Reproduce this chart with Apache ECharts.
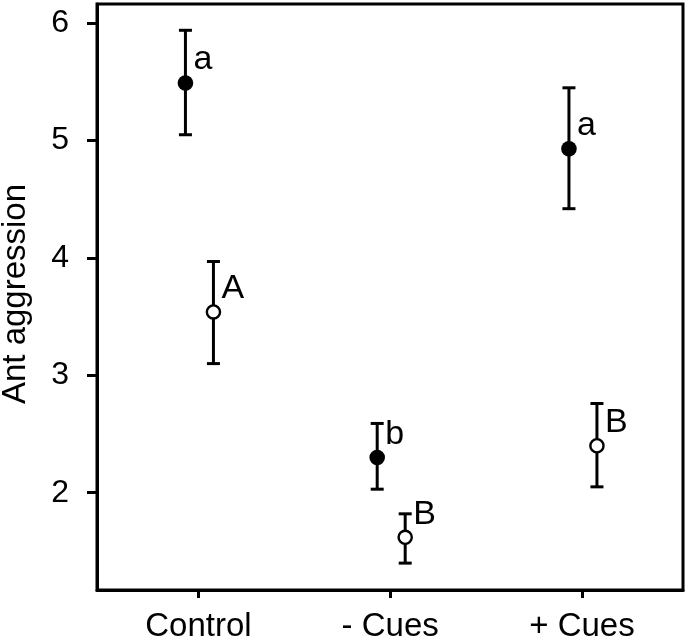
<!DOCTYPE html>
<html>
<head>
<meta charset="utf-8">
<script src="https://cdn.jsdelivr.net/npm/echarts@6/dist/echarts.min.js"></script>
<style>
html,body{margin:0;padding:0;background:#fff;}
#chart{width:685px;height:643px;}
</style>
</head>
<body>
<div id="chart"></div>
<script>
const categories = ['Control', '- Cues', '+ Cues'];
const yTicks = [2, 3, 4, 5, 6];

const filledMean  = [5.49, 2.30, 4.93];
const filledUpper = [5.94, 2.59, 5.45];
const filledLower = [5.05, 2.03, 4.42];
const filledLetters = ['a', 'b', 'a'];

const openMean  = [3.54, 1.62, 2.40];
const openUpper = [3.97, 1.82, 2.76];
const openLower = [3.10, 1.40, 2.05];
const openLetters = ['A', 'B', 'B'];

const FONT = 'Liberation Sans, Arial, sans-serif';

function buildData(mean, upper, lower, letters) {
  return categories.map((c, i) => [i + 1, mean[i], upper[i], lower[i], letters[i]]);
}

function makeRender(dx, filled) {
  return function (params, api) {
    const x = api.value(0);
    const c = api.coord([x, api.value(1)]);
    const hi = api.coord([x, api.value(2)]);
    const lo = api.coord([x, api.value(3)]);
    const px = c[0] + dx;
    const capW = 6.5;
    const lineStyle = { stroke: '#000', lineWidth: 3 };
    return {
      type: 'group',
      children: [
        { type: 'line', shape: { x1: px, y1: hi[1], x2: px, y2: lo[1] }, style: lineStyle },
        { type: 'line', shape: { x1: px - capW, y1: hi[1], x2: px + capW, y2: hi[1] }, style: lineStyle },
        { type: 'line', shape: { x1: px - capW, y1: lo[1], x2: px + capW, y2: lo[1] }, style: lineStyle },
        filled
          ? { type: 'circle', shape: { cx: px, cy: c[1], r: 7.8 }, style: { fill: '#000' } }
          : { type: 'circle', shape: { cx: px, cy: c[1], r: 6.6 }, style: { fill: '#fff', stroke: '#000', lineWidth: 2.4 } },
        {
          type: 'text',
          x: px + 8, y: c[1] - 23,
          style: {
            text: api.value(4), fill: '#000', font: '34px ' + FONT,
            textAlign: 'left', textVerticalAlign: 'middle'
          }
        }
      ]
    };
  };
}

const chart = echarts.init(document.getElementById('chart'), null, { renderer: 'canvas' });
chart.setOption({
  animation: false,
  backgroundColor: '#fff',
  grid: {
    left: 97, right: 2, top: 4, bottom: 53,
    show: true, borderColor: '#000', borderWidth: 3, backgroundColor: 'transparent'
  },
  xAxis: {
    type: 'value',
    min: 0.471, max: 3.527,
    splitLine: { show: false },
    axisLine: { show: true, lineStyle: { color: '#000', width: 3 } },
    axisTick: { show: true, customValues: [1, 2, 3], length: 8, lineStyle: { color: '#000', width: 3 } },
    axisLabel: {
      customValues: [1, 2, 3],
      formatter: v => categories[Math.round(v) - 1] || '',
      color: '#000', fontFamily: FONT, fontSize: 33, margin: 20
    }
  },
  yAxis: {
    type: 'value',
    min: 1.171, max: 6.164,
    splitLine: { show: false },
    axisLine: { show: true, lineStyle: { color: '#000', width: 3 } },
    axisTick: { show: true, customValues: yTicks, length: 10, lineStyle: { color: '#000', width: 3 } },
    axisLabel: {
      customValues: yTicks,
      color: '#000', fontFamily: FONT, fontSize: 32, margin: 28
    }
  },
  graphic: [{
    type: 'text',
    x: 16, y: 294,
    rotation: Math.PI / 2,
    style: {
      text: 'Ant aggression', fill: '#000', font: '33px ' + FONT,
      textAlign: 'center', textVerticalAlign: 'middle'
    }
  }],
  series: [
    {
      type: 'custom', name: 'filled',
      renderItem: makeRender(-13, true),
      data: buildData(filledMean, filledUpper, filledLower, filledLetters),
      encode: { x: 0, y: [1, 2, 3] },
      clip: false
    },
    {
      type: 'custom', name: 'open',
      renderItem: makeRender(15, false),
      data: buildData(openMean, openUpper, openLower, openLetters),
      encode: { x: 0, y: [1, 2, 3] },
      clip: false
    }
  ]
});
</script>
</body>
</html>
